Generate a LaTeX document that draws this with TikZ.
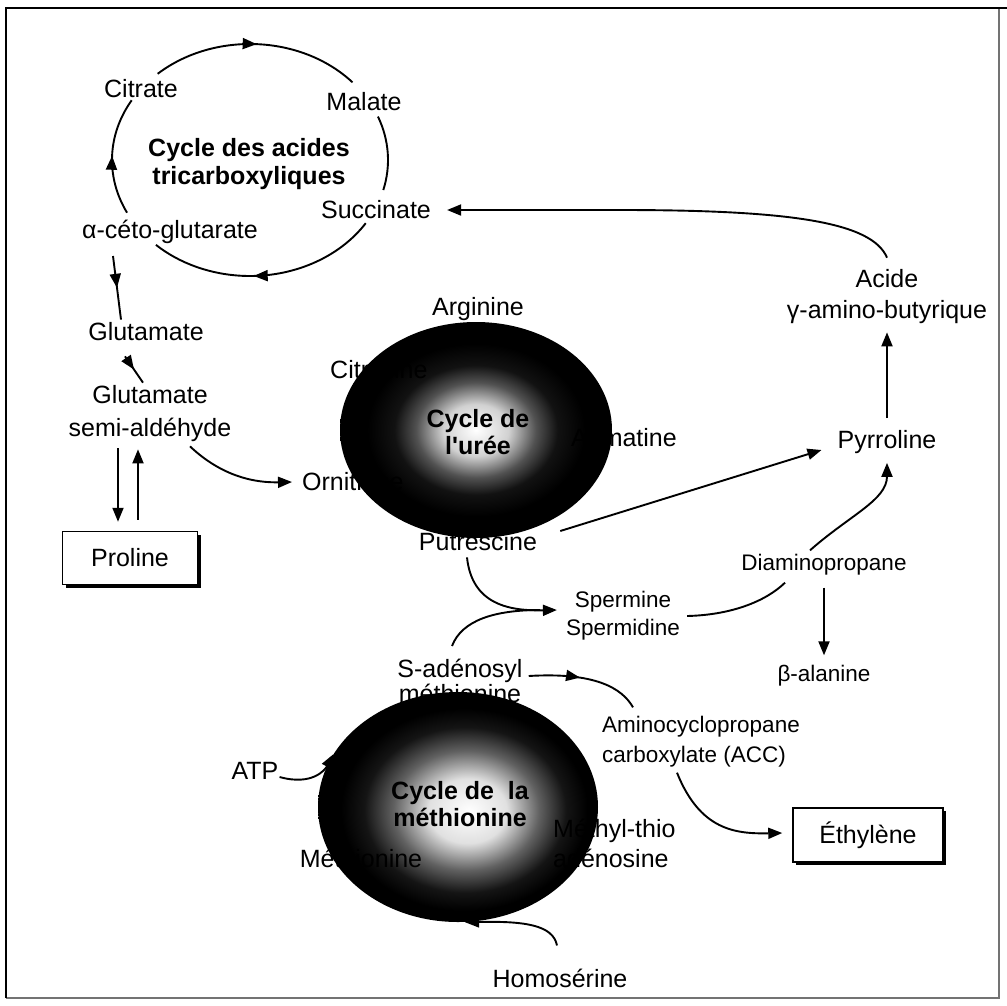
\documentclass[tikz,border=0pt]{standalone}
\usepackage{fontspec}
\setmainfont{Liberation Sans}[Ligatures=TeXOff]
\usetikzlibrary{arrows.meta,decorations.markings,shapes.geometric,shadows,calc}
\pgfdeclareradialshading{ureash}{\pgfpoint{0bp}{0bp}}{color(0bp)=(white); color(6bp)=(white!82!black); color(11bp)=(black!68); color(15bp)=(black!93); color(20bp)=(black); color(50bp)=(black)}
\pgfdeclareradialshading{metsh}{\pgfpoint{2bp}{-1bp}}{color(0bp)=(white); color(7bp)=(white!88!black); color(13bp)=(black!62); color(18bp)=(black!92); color(22bp)=(black); color(50bp)=(black)}
\begin{document}
\begin{tikzpicture}[x=1pt,y=-1pt,
  lbl/.style={font=\fontsize{25}{29}\selectfont, inner sep=2pt, align=center},
  sm/.style={font=\fontsize{22.5}{28}\selectfont},
  ttl/.style={lbl, font=\fontsize{25}{28}\selectfont\bfseries},
  ln/.style={line width=1.9pt},
  tip/.style={-{Triangle[length=14pt,width=11pt]}},
  arr/.style={ln, tip},
  midarrow/.style={postaction={decorate}, decoration={markings, mark=at position #1 with {\arrow{Triangle[length=14pt,width=11pt]}}}},
  boxed/.style={lbl, draw, line width=1.5pt, fill=white, drop shadow={shadow xshift=3pt, shadow yshift=-3pt, opacity=1, fill=black}}
]
\fill[white] (0,0) rectangle (1007,1005);
\useasboundingbox (0,0) rectangle (1007,1005);
\draw[black!55, line width=1.2pt] (999,8) -- (999,998) -- (6,998);
\draw[line width=2.5pt] (6,998) -- (6,8) -- (1007,8);

% --- TCA cycle ---
\coordinate (tcac) at (250,160);
\draw[ln, midarrow=0.5] (tcac) ++(-132:138 and 116) arc[start angle=-132, end angle=-42, x radius=138, y radius=116];
\draw[ln] (tcac) ++(-22:138 and 116) arc[start angle=-22, end angle=15, x radius=138, y radius=116];
\draw[ln, midarrow=0.55] (tcac) ++(33:138 and 116) arc[start angle=33, end angle=133, x radius=138, y radius=116];
\draw[ln, midarrow=0.5] (tcac) ++(153:138 and 116) arc[start angle=153, end angle=211, x radius=138, y radius=116];
\node[lbl] (citrate) at (141,89) {Citrate};
\node[lbl] (malate) at (364,102) {Malate};
\node[lbl] (succ) at (376,210) {Succinate};
\node[lbl] (akg) at (170,232) {α-céto-glutarate};
\node[ttl] (tca) at (249,164) {Cycle des acides\\tricarboxyliques};

% --- left column ---
\node[lbl] (glu) at (146,332) {Glutamate};
\node[lbl, font=\fontsize{25}{33}\selectfont] (gsa) at (150,414) {Glutamate\\semi-aldéhyde};
\node[boxed, minimum width=135, minimum height=53] (pro) at (130,558) {Proline};

% --- shaded cycles ---
\node[ellipse, minimum width=272, minimum height=216, inner sep=0, shading=ureash] (urea) at (476,430) {};
\node[ellipse, minimum width=280, minimum height=230, inner sep=0, shading=metsh] (met) at (458,807) {};

% --- urea cycle labels ---
\node[lbl] (arg) at (478,309) {Arginine};
\node[lbl, anchor=west] (cit) at (328,370) {Citrulline};
\node[lbl, anchor=west] (orn) at (300,482) {Ornithine};
\node[lbl] (put) at (478,542) {Putrescine};
\node[lbl, anchor=east] (agm) at (679,440) {Agmatine};
\node[ttl, font=\fontsize{25}{27}\selectfont\bfseries] (ureat) at (478,432) {Cycle de\\l'urée};

% --- right side ---
\node[lbl, font=\fontsize{25}{31}\selectfont] (gaba) at (887,297) {Acide\\γ-amino-butyrique};
\node[lbl] (pyr) at (887,442) {Pyrroline};
\node[lbl, sm] (dap) at (824,565) {Diaminopropane};
\node[lbl, sm] (bala) at (824,676) {β-alanine};
\node[lbl, sm] (sperm) at (623,616) {Spermine\\Spermidine};

% --- methionine cycle labels ---
\node[lbl, font=\fontsize{25}{25}\selectfont] (sam) at (460,681) {S-adénosyl\\méthionine};
\node[ttl, font=\fontsize{25}{27}\selectfont\bfseries] (mett) at (460,804) {Cycle de\ \ la\\méthionine};
\node[lbl] (metn) at (361,858) {Méthionine};
\node[lbl, align=left, anchor=west, font=\fontsize{25}{30}\selectfont] (mta) at (551,843) {Méthyl-thio\\adénosine};
\node[lbl] (homo) at (560,978) {Homosérine};
\node[lbl] (atp) at (255,771) {ATP};
\node[lbl, align=left, anchor=west, font=\fontsize{22.5}{30}\selectfont] (acc) at (600,742) {Aminocyclopropane\\carboxylate (ACC)};
\node[boxed, minimum width=150, minimum height=54] (eth) at (868,835) {Éthylène};

% --- connectors ---
\draw[ln, midarrow=0.5] ([xshift=-57pt,yshift=-10pt]akg.south) -- ([xshift=-25pt,yshift=1pt]glu.north);
\draw[ln, midarrow=0.5] ([xshift=-21pt,yshift=-13pt]glu.south) -- ([xshift=-7pt,yshift=1pt]gsa.north);
\draw[arr] ([xshift=-32pt,yshift=-4pt]gsa.south) -- ([xshift=-12pt,yshift=9pt]pro.north);
\draw[arr] ([xshift=8pt,yshift=11pt]pro.north) -- ([xshift=-12pt,yshift=-5pt]gsa.south);
\draw[arr] ([xshift=40pt,yshift=-2pt]gsa.south) .. controls (215,470) and (245,483) .. ([xshift=-8pt]orn.west);

\draw[arr] ([xshift=21pt,yshift=11pt]put.east) -- ([xshift=-14pt,yshift=-8pt]pyr.west);
\draw[arr] ([yshift=10pt]pyr.north) -- ([yshift=-6pt]gaba.south);
\draw[arr] ([yshift=10pt]gaba.north) .. controls (872,222) and (790,210) .. (620,210) -- ([xshift=14pt]succ.east);
\draw[arr] ([xshift=-14pt,yshift=2pt]dap.north) .. controls (850,515) and (887,500) .. ([yshift=-7pt]pyr.south);
\draw[arr] ([yshift=-10pt]dap.south) -- ([yshift=8pt]bala.north);
\draw[ln] ([xshift=5pt]sperm.east) .. controls (730,615) and (765,602) .. ([xshift=-39pt,yshift=-5pt]dap.south);

\draw[arr] ([xshift=-11pt,yshift=-4pt]put.south) .. controls (472,605) and (510,611) .. ([xshift=-7pt,yshift=6pt]sperm.west);
\draw[ln] ([xshift=-8pt,yshift=11pt]sam.north) .. controls (462,620) and (495,610) .. (540,610);

\draw[ln, midarrow=0.45] ([xshift=4pt,yshift=5pt]sam.east) .. controls (595,672) and (622,688) .. ([xshift=33pt,yshift=7pt]acc.north west);
\draw[arr] ([xshift=77pt,yshift=-3pt]acc.south west) .. controls (700,830) and (735,834) .. ([xshift=-10pt,yshift=2pt]eth.west);

\draw[arr] ([xshift=-1pt,yshift=-6pt]atp.east) .. controls (312,786) and (325,770) .. (met.157);
\draw[arr] ([xshift=-3pt,yshift=21pt]homo.north) .. controls (553,925) and (525,921) .. ([xshift=7pt]met.south);
\end{tikzpicture}
\end{document}
